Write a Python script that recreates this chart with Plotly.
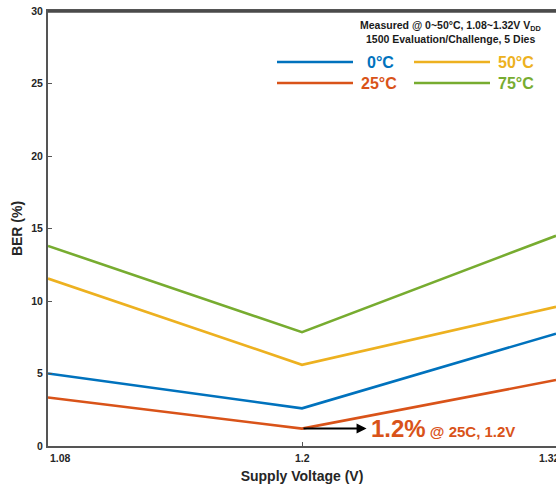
import plotly.graph_objects as go

voltage = [1.08, 1.2, 1.32]
ber_0c = [5.0, 2.6, 7.75]
ber_25c = [3.35, 1.2, 4.55]
ber_50c = [11.55, 5.6, 9.6]
ber_75c = [13.8, 7.85, 14.5]
series_names = ["0°C", "25°C", "50°C", "75°C"]
colors = ["#0072BD", "#D95319", "#EDB120", "#77AC30"]
x_tick_vals = [1.08, 1.2, 1.32]
x_tick_text = ["1.08", "1.2", "1.32"]
y_tick_vals = [0, 5, 10, 15, 20, 25, 30]

FONT = "Liberation Sans, Arial, sans-serif"
fig = go.Figure()
for name, vals, c in zip(series_names, [ber_0c, ber_25c, ber_50c, ber_75c], colors):
    fig.add_trace(go.Scatter(x=voltage, y=vals, mode="lines", name=name,
                             line=dict(color=c, width=2.6), showlegend=False,
                             cliponaxis=False))

axis_col = "#555555"
fig.update_layout(
    width=556, height=488,
    margin=dict(l=48, r=0, t=11, b=42),
    paper_bgcolor="white", plot_bgcolor="white",
    font=dict(family=FONT, color="#262626"),
    xaxis=dict(range=[1.08, 1.32], tickvals=x_tick_vals, showticklabels=False,
               ticks="inside", ticklen=4, tickwidth=1.2, tickcolor=axis_col,
               showline=True, linecolor=axis_col, linewidth=2, mirror=True,
               showgrid=False, zeroline=False,
               title=dict(text="<b>Supply Voltage (V)</b>", font=dict(size=14, color="#262626"), standoff=24)),
    yaxis=dict(range=[0, 30], tickvals=y_tick_vals,
               ticktext=[f"<b>{v}</b>" for v in y_tick_vals],
               ticks="inside", ticklen=4, tickwidth=1.2, tickcolor=axis_col,
               tickfont=dict(size=10.5, color="#262626"), ticklabelstandoff=1,
               ticklabeloverflow="allow",
               showline=True, linecolor=axis_col, linewidth=2,
               showgrid=False, zeroline=False,
               title=dict(text="<b>BER (%)</b>", font=dict(size=14, color="#262626"), standoff=5)),
)

# top frame line
fig.add_shape(type="line", xref="paper", yref="paper", x0=0, x1=1, y0=0.999, y1=0.999,
              line=dict(color="#4a4a4a", width=2.5), layer="above")

# x tick labels
anchors = ["left", "center", "center"]
shifts = [0, 0, -7]
for v, t, a, s in zip(x_tick_vals, x_tick_text, anchors, shifts):
    fig.add_annotation(x=v, y=0, xref="x", yref="y", text=f"<b>{t}</b>", showarrow=False,
                       xanchor=a, yanchor="top", yshift=-4, xshift=s,
                       font=dict(size=10.5, color="#262626"))

# header text
fig.add_annotation(xref="paper", yref="paper", x=0.792, y=0.966, xanchor="center", yanchor="middle",
                   text="<b>Measured @ 0~50°C, 1.08~1.32V V<sub>DD</sub></b>", showarrow=False,
                   font=dict(size=10.5, color="#1a1a1a"))
fig.add_annotation(xref="paper", yref="paper", x=0.792, y=0.935, xanchor="center", yanchor="middle",
                   text="<b>1500 Evaluation/Challenge, 5 Dies</b>", showarrow=False,
                   font=dict(size=10.5, color="#1a1a1a"))

# legend
def px_x(p):
    return (p - 48) / 508.0
def px_y(p):
    return (446 - p) / 435.0
legend_pos = [(277, 353, 380, 62), (277, 353, 379, 83), (414, 490, 516, 62), (414, 490, 516, 83)]
for name, c, (x0, x1, tx, yy) in zip(series_names, colors, legend_pos):
    fig.add_shape(type="line", xref="paper", yref="paper", x0=px_x(x0), x1=px_x(x1),
                  y0=px_y(yy), y1=px_y(yy), line=dict(color=c, width=2.6))
    fig.add_annotation(xref="paper", yref="paper", x=px_x(tx), y=px_y(yy), text=f"<b>{name}</b>",
                       showarrow=False, xanchor="center", yanchor="middle",
                       font=dict(size=16, color=c))

# arrow and callout
fig.add_annotation(x=1.2305, y=ber_25c[1], ax=1.2, ay=ber_25c[1], xref="x", yref="y",
                   axref="x", ayref="y", text="", showarrow=True, arrowhead=2,
                   arrowsize=1, arrowwidth=2, arrowcolor="black")
fig.add_annotation(x=1.2315, y=ber_25c[1], xref="x", yref="y", xanchor="left", yanchor="middle",
                   text="<b><span style='font-size:24px'>1.2%</span> @ 25C, 1.2V</b>", showarrow=False,
                   font=dict(size=15, color="#D95319"))

fig.write_html("out.html", config={"displayModeBar": False},
               post_script="document.body.style.margin='0';document.body.style.overflow='hidden';")
